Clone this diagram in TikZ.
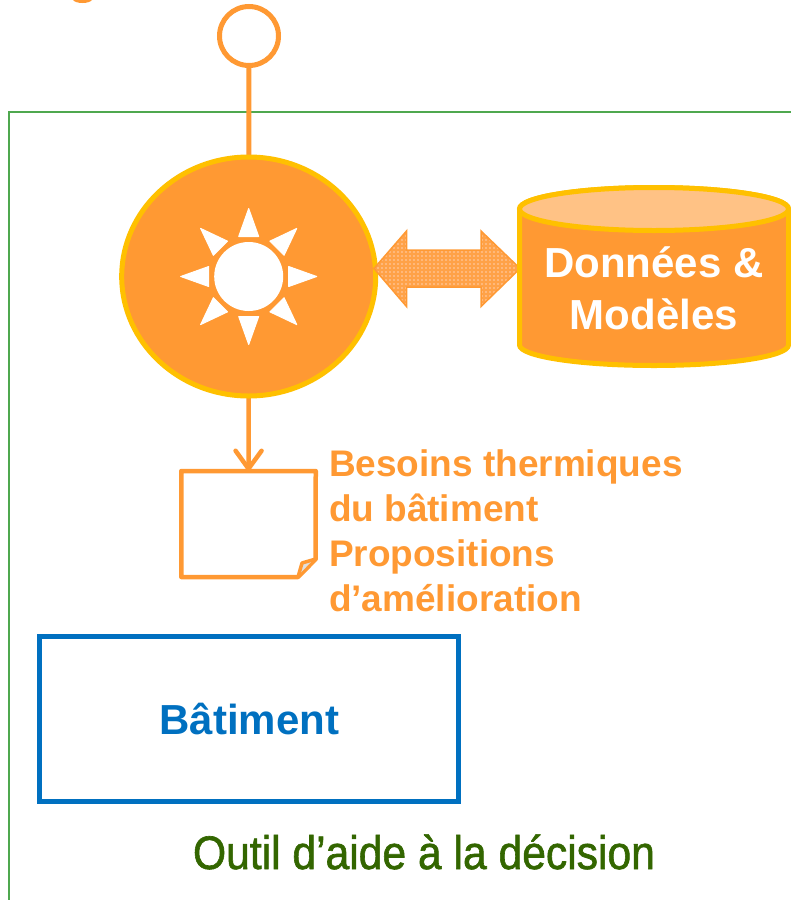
\documentclass[tikz,border=0pt]{standalone}
\usepackage{fontspec}
\setmainfont{Liberation Sans}
\newfontfamily\toolfont[FakeBold=1.4]{Liberation Sans}
\usetikzlibrary{shapes.geometric,arrows.meta}
\definecolor{orA}{HTML}{FF9933}
\definecolor{golD}{HTML}{FFC000}
\definecolor{peacH}{HTML}{FFC285}
\definecolor{hatchL}{HTML}{FFB87A}
\definecolor{frameG}{HTML}{4FA84F}
\definecolor{darkG}{HTML}{336600}
\definecolor{bluE}{HTML}{0070C0}
\tikzset{
  x=1pt,y=-1pt,
  orangeline/.style={draw=orA,line width=5pt},
  goldline/.style={draw=golD,line width=5pt},
  ray/.style={fill=white,draw=white,line width=1pt,line join=round},
  label block/.style={inner sep=0pt,outer sep=0pt},
  bigbold/.style={label block,font=\fontsize{42}{52}\selectfont\bfseries},
}
\begin{document}
\begin{tikzpicture}
\useasboundingbox (0,0) rectangle (791,900);
\clip (0,0) rectangle (791,900);
% frame
\draw[frameG,line width=2pt] (810,111.5) -- (9,111.5) -- (9,920);
% top clipped fragment of text
\fill[orA] (73,0) .. controls (76,4) and (89,4) .. (92,0) -- cycle;
% nodes
\node[circle,draw=orA,line width=5pt,fill=white,minimum size=59pt,inner sep=0pt] (start) at (249,36) {};
\node[ellipse,draw=none,minimum width=254pt,minimum height=239pt,inner sep=0pt,outer sep=0pt] (main) at (248.7,276.5) {};
\node[rectangle,draw=none,minimum width=134.5pt,minimum height=106pt,inner sep=0pt,outer sep=0pt] (doc) at (248.5,524) {};
\draw[orangeline] (start) -- (main);
\draw[draw=orA,line width=4.5pt,line cap=round,-{Straight Barb[length=18pt,width=26pt,round]}] (main.south) -- (doc.north);
% main circle
\draw[goldline,fill=orA] (main.center) ellipse [x radius=127,y radius=119.5];
% sun
\fill[white] (main.center) circle [radius=34.5];
\foreach \a in {0,45,...,315}{
  \begin{scope}[shift={(main.center)},rotate=\a]
    \filldraw[ray] (68,0) -- (40,-10) -- (40,10) -- cycle;
  \end{scope}
}
% double arrow
\begin{scope}
  \clip (374,268.5) -- (406.5,231) -- (406.5,250) -- (481,250) -- (481,231) -- (520,268.5) -- (481,306.5) -- (481,287) -- (406.5,287) -- (406.5,306.5) -- cycle;
  \fill[hatchL] (370,225) rectangle (525,312);
  \foreach \k in {0,...,39}{
    \draw[orA!70!hatchL,line width=1.3pt] (372+4*\k,225) -- (372+4*\k,312);
  }
  \foreach \k in {0,...,22}{
    \draw[orA!70!hatchL,line width=1.3pt] (370,226+4*\k) -- (525,226+4*\k);
  }
\end{scope}
\draw[draw=orA,line width=1.5pt,line join=miter] (374,268.5) -- (406.5,231) -- (406.5,250) -- (481,250) -- (481,231) -- (520,268.5) -- (481,306.5) -- (481,287) -- (406.5,287) -- (406.5,306.5) -- cycle;
% cylinder
\draw[goldline,fill=orA] (519.5,209) -- (519.5,345) arc [start angle=180,end angle=0,x radius=134.5,y radius=20.5] -- (788.5,209) arc [start angle=0,end angle=-180,x radius=134.5,y radius=21.5] -- cycle;
\draw[goldline,fill=peacH] (654,209) ellipse [x radius=134.5,y radius=21.5];
\node[bigbold,text=white,anchor=base] (data1) at (654,277.5) {Données \&};
\node[bigbold,text=white,anchor=base] (data2) at (654,329.5) {Modèles};
% document
\draw[draw=orA,line width=4.5pt,line join=round] (doc.north west) -- (doc.north east) -- (315.7,559) -- (298,577) -- (doc.south west) -- cycle;
\fill[gray!25] (299.5,574) -- (302.5,563) -- (312,561) -- cycle;
\draw[orA,line width=3.5pt,line join=round] (298,577) -- (302,563) -- (315.7,559);
% labels
\node[label block,anchor=base west,font=\fontsize{37}{45}\selectfont\bfseries,text=orA,align=left] (needs) at (329,611) {Besoins thermiques\\du bâtiment\\Propositions\\d’amélioration};
% building
\node[rectangle,draw=bluE,line width=5pt,minimum width=419pt,minimum height=165pt,inner sep=0pt] (bat) at (249,719) {};
\node[bigbold,text=bluE,anchor=base] (batlabel) at (249.5,734.5) {Bâtiment};
\node[label block,anchor=base,text=darkG,font=\fontsize{47}{56}\toolfont] (tool) at (424,869) {\resizebox{462pt}{\height}{Outil d’aide à la décision}};
\end{tikzpicture}
\end{document}
